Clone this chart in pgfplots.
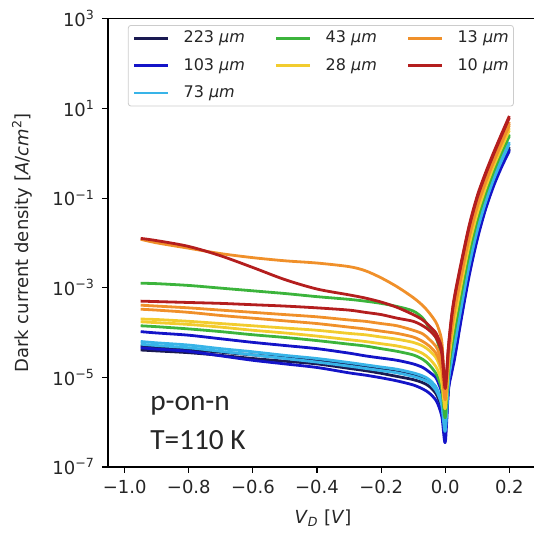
\documentclass[border=0pt]{standalone}
\usepackage{fontspec}
\setmainfont{DejaVu Sans}
\newfontfamily\carlito{Carlito}
\usepackage{pgfplots}
\usepackage{pgfplotstable}
\pgfplotsset{compat=1.18}
\definecolor{cNavy}{HTML}{1A1A52}
\definecolor{cBlue}{HTML}{1414C8}
\definecolor{cCyan}{HTML}{38B4E8}
\definecolor{cGreen}{HTML}{3CB43C}
\definecolor{cYellow}{HTML}{F2CC2E}
\definecolor{cOrange}{HTML}{F0902A}
\definecolor{cRed}{HTML}{B41E1E}
\definecolor{txt}{HTML}{262626}
% log10 of dark current density [A/cm^2] vs V_D [V]
\pgfplotstableread{
V     nA    nB    bA    bB    cA    cB    gA    gB    yA    yB    oA    oB    oC    rA    rB
-0.95 -4.39 -4.30 -4.34 -3.98 -4.20 -4.26 -2.90 -3.85 -3.70 -3.76 -1.92 -3.39 -3.48 -1.90 -3.30
-0.90 -4.41 -4.33 -4.37 -4.01 -4.23 -4.29 -2.91 -3.87 -3.71 -3.78 -2.00 -3.41 -3.50 -1.95 -3.31
-0.80 -4.45 -4.38 -4.42 -4.06 -4.28 -4.34 -2.95 -3.92 -3.75 -3.82 -2.12 -3.45 -3.55 -2.08 -3.33
-0.70 -4.51 -4.44 -4.52 -4.14 -4.36 -4.42 -3.01 -3.98 -3.80 -3.88 -2.24 -3.50 -3.62 -2.29 -3.35
-0.60 -4.58 -4.50 -4.62 -4.22 -4.43 -4.50 -3.07 -4.05 -3.85 -3.95 -2.33 -3.55 -3.68 -2.55 -3.38
-0.50 -4.64 -4.56 -4.70 -4.29 -4.51 -4.58 -3.13 -4.11 -3.90 -4.01 -2.40 -3.60 -3.74 -2.82 -3.41
-0.40 -4.70 -4.62 -4.78 -4.36 -4.58 -4.66 -3.20 -4.18 -3.95 -4.08 -2.45 -3.65 -3.80 -3.03 -3.45
-0.30 -4.80 -4.71 -4.90 -4.46 -4.67 -4.75 -3.26 -4.26 -4.02 -4.16 -2.53 -3.72 -3.88 -3.16 -3.50
-0.25 -4.85 -4.76 -4.95 -4.52 -4.72 -4.80 -3.30 -4.30 -4.05 -4.20 -2.62 -3.75 -3.92 -3.23 -3.55
-0.20 -4.91 -4.82 -5.01 -4.57 -4.77 -4.85 -3.35 -4.36 -4.10 -4.25 -2.78 -3.80 -3.97 -3.32 -3.60
-0.15 -4.98 -4.88 -5.08 -4.62 -4.82 -4.90 -3.42 -4.42 -4.15 -4.30 -2.98 -3.85 -4.02 -3.44 -3.68
-0.10 -5.05 -4.95 -5.17 -4.70 -4.90 -4.98 -3.52 -4.50 -4.22 -4.38 -3.22 -3.95 -4.10 -3.60 -3.75
-0.07 -5.12 -5.02 -5.26 -4.78 -4.97 -5.05 -3.68 -4.60 -4.30 -4.47 -3.40 -4.03 -4.20 -3.72 -3.85
-0.05 -5.20 -5.10 -5.35 -4.88 -5.05 -5.12 -3.90 -4.72 -4.40 -4.58 -3.56 -4.15 -4.30 -3.85 -3.95
-0.03 -5.35 -5.25 -5.50 -5.00 -5.20 -5.28 -4.10 -4.90 -4.55 -4.75 -3.76 -4.30 -4.45 -4.00 -4.10
-0.02 -5.50 -5.40 -5.65 -5.15 -5.35 -5.42 -4.30 -5.05 -4.70 -4.90 -3.93 -4.45 -4.60 -4.15 -4.25
-0.01 -5.70 -5.60 -5.90 -5.40 -5.60 -5.65 -4.60 -5.30 -4.95 -5.15 -4.25 -4.70 -4.85 -4.40 -4.50
0.00  -6.10 -6.00 -6.45 -6.20 -6.10 -6.20 -5.60 -5.90 -5.60 -5.70 -5.30 -5.40 -5.50 -5.20 -5.25
0.01  -5.18 -5.22 -5.30 -5.25 -5.05 -5.10 -4.82 -4.86 -4.65 -4.70 -4.47 -4.50 -4.55 -4.30 -4.35
0.02  -4.75 -4.79 -4.90 -4.85 -4.58 -4.63 -4.29 -4.33 -4.07 -4.12 -3.84 -3.88 -3.92 -3.62 -3.66
0.03  -4.38 -4.42 -4.55 -4.50 -4.20 -4.25 -3.88 -3.92 -3.64 -3.69 -3.39 -3.43 -3.47 -3.15 -3.19
0.05  -3.55 -3.59 -3.70 -3.65 -3.38 -3.43 -3.09 -3.13 -2.87 -2.92 -2.65 -2.69 -2.73 -2.43 -2.47
0.075 -2.59 -2.63 -2.72 -2.68 -2.44 -2.49 -2.18 -2.22 -1.99 -2.04 -1.79 -1.83 -1.87 -1.60 -1.64
0.10  -1.80 -1.84 -1.92 -1.88 -1.68 -1.72 -1.45 -1.49 -1.29 -1.34 -1.11 -1.15 -1.19 -0.95 -0.99
0.125 -1.17 -1.21 -1.27 -1.23 -1.07 -1.11 -0.88 -0.92 -0.74 -0.79 -0.59 -0.63 -0.67 -0.45 -0.49
0.15  -0.66 -0.70 -0.75 -0.71 -0.56 -0.60 -0.39 -0.43 -0.26 -0.31 -0.13 -0.17 -0.21 0.00 -0.04
0.175 -0.23 -0.27 -0.32 -0.28 -0.14 -0.18 0.04 0.00 0.16 0.11 0.29 0.25 0.21 0.42 0.38
0.20  0.14 0.10 0.05 0.08 0.25 0.21 0.42 0.38 0.56 0.51 0.70 0.66 0.62 0.83 0.79
}\jv
\begin{document}
\begin{tikzpicture}
\begin{axis}[
  at={(0,0)}, anchor=south west,
  scale only axis, width=320.25pt, height=336.2pt,
  xmin=-1.052, xmax=0.28,
  ymode=log, ymin=1e-7, ymax=1e3,
  axis line style={line width=0.8pt, black},
  tick style={line width=0.8pt, black},
  tick align=outside, major tick length=4.5pt,
  xtick pos=left, ytick pos=left,
  yminorticks=false, xminorticks=false,
  xtick={-1,-0.8,-0.6,-0.4,-0.2,0,0.2},
  xticklabels={−1.0,−0.8,−0.6,−0.4,−0.2,0.0,0.2},
  ytick={1e-7,1e-5,1e-3,1e-1,1e1,1e3},
  yticklabels={10\textsuperscript{−7},10\textsuperscript{−5},10\textsuperscript{−3},10\textsuperscript{−1},10\textsuperscript{1},10\textsuperscript{3}},
  ticklabel style={font=\fontsize{13.5}{16}\selectfont, text=txt},
  xticklabel style={yshift=-2pt},
  yticklabel style={xshift=-2pt},
  xlabel={\textit{V}\textsubscript{\textit{D}} [\textit{V}]},
  ylabel={Dark current density [\textit{A}/\textit{cm}\textsuperscript{2}]},
  label style={font=\fontsize{13.5}{16}\selectfont, text=txt},
  xlabel style={at={(axis description cs:0.5035,-0.114)}, anchor=center},
  ylabel style={at={(axis description cs:-0.201,0.5)}, anchor=center, rotate=0},
  legend columns=3,
  legend cell align=left,
  legend style={at={(axis description cs:0.4985,0.986)}, anchor=north,
    draw=black!20, rounded corners=2pt, line width=0.6pt,
    inner xsep=3.5pt, inner ysep=4pt,
    font=\fontsize{12}{14}\selectfont, text=txt,
    row sep=9pt,
    nodes={inner sep=0pt, text height=9pt, text depth=2.5pt},
    /tikz/every odd column/.append style={column sep=10.5pt},
    /tikz/every even column/.append style={column sep=22.5pt}},
  legend image code/.code={\draw[#1, line width=2pt] (0pt,0pt) -- (25.5pt,0pt);},
  every axis plot/.append style={line width=2.1pt, smooth, tension=0.5, line join=round},
]
\addlegendimage{cNavy}\addlegendentry{223 \textit{μm}}
\addlegendimage{cGreen}\addlegendentry{43 \textit{μm}}
\addlegendimage{cOrange}\addlegendentry{13 \textit{μm}}
\addlegendimage{cBlue}\addlegendentry{103 \textit{μm}}
\addlegendimage{cYellow}\addlegendentry{28 \textit{μm}}
\addlegendimage{cRed}\addlegendentry{10 \textit{μm}}
\addlegendimage{cCyan}\addlegendentry{73 \textit{μm}}

\addplot[cNavy, forget plot] table[x=V, y expr={10^(\thisrow{nA})}] {\jv};
\addplot[cNavy, forget plot] table[x=V, y expr={10^(\thisrow{nB})}] {\jv};
\addplot[cBlue, forget plot] table[x=V, y expr={10^(\thisrow{bA})}] {\jv};
\addplot[cBlue, forget plot] table[x=V, y expr={10^(\thisrow{bB})}] {\jv};
\addplot[cCyan, forget plot] table[x=V, y expr={10^(\thisrow{cA})}] {\jv};
\addplot[cCyan, forget plot] table[x=V, y expr={10^(\thisrow{cB})}] {\jv};
\addplot[cGreen, forget plot] table[x=V, y expr={10^(\thisrow{gA})}] {\jv};
\addplot[cGreen, forget plot] table[x=V, y expr={10^(\thisrow{gB})}] {\jv};
\addplot[cYellow, forget plot] table[x=V, y expr={10^(\thisrow{yA})}] {\jv};
\addplot[cYellow, forget plot] table[x=V, y expr={10^(\thisrow{yB})}] {\jv};
\addplot[cOrange, forget plot] table[x=V, y expr={10^(\thisrow{oA})}] {\jv};
\addplot[cOrange, forget plot] table[x=V, y expr={10^(\thisrow{oB})}] {\jv};
\addplot[cOrange, forget plot] table[x=V, y expr={10^(\thisrow{oC})}] {\jv};
\addplot[cRed, forget plot] table[x=V, y expr={10^(\thisrow{rA})}] {\jv};
\addplot[cRed, forget plot] table[x=V, y expr={10^(\thisrow{rB})}] {\jv};

\node[anchor=base west, inner sep=0pt, text=txt, font=\carlito\fontsize{22}{26}\selectfont] at (axis cs:-0.921,1.86e-6) {p-on-n};
\node[anchor=base west, inner sep=0pt, text=txt, font=\carlito\fontsize{22}{26}\selectfont] at (axis cs:-0.921,2.47e-7) {T=110 K};
\end{axis}
\pgfresetboundingbox
\useasboundingbox (-81pt,-55.5pt) rectangle (318.75pt,350.25pt);
\end{tikzpicture}
\end{document}
